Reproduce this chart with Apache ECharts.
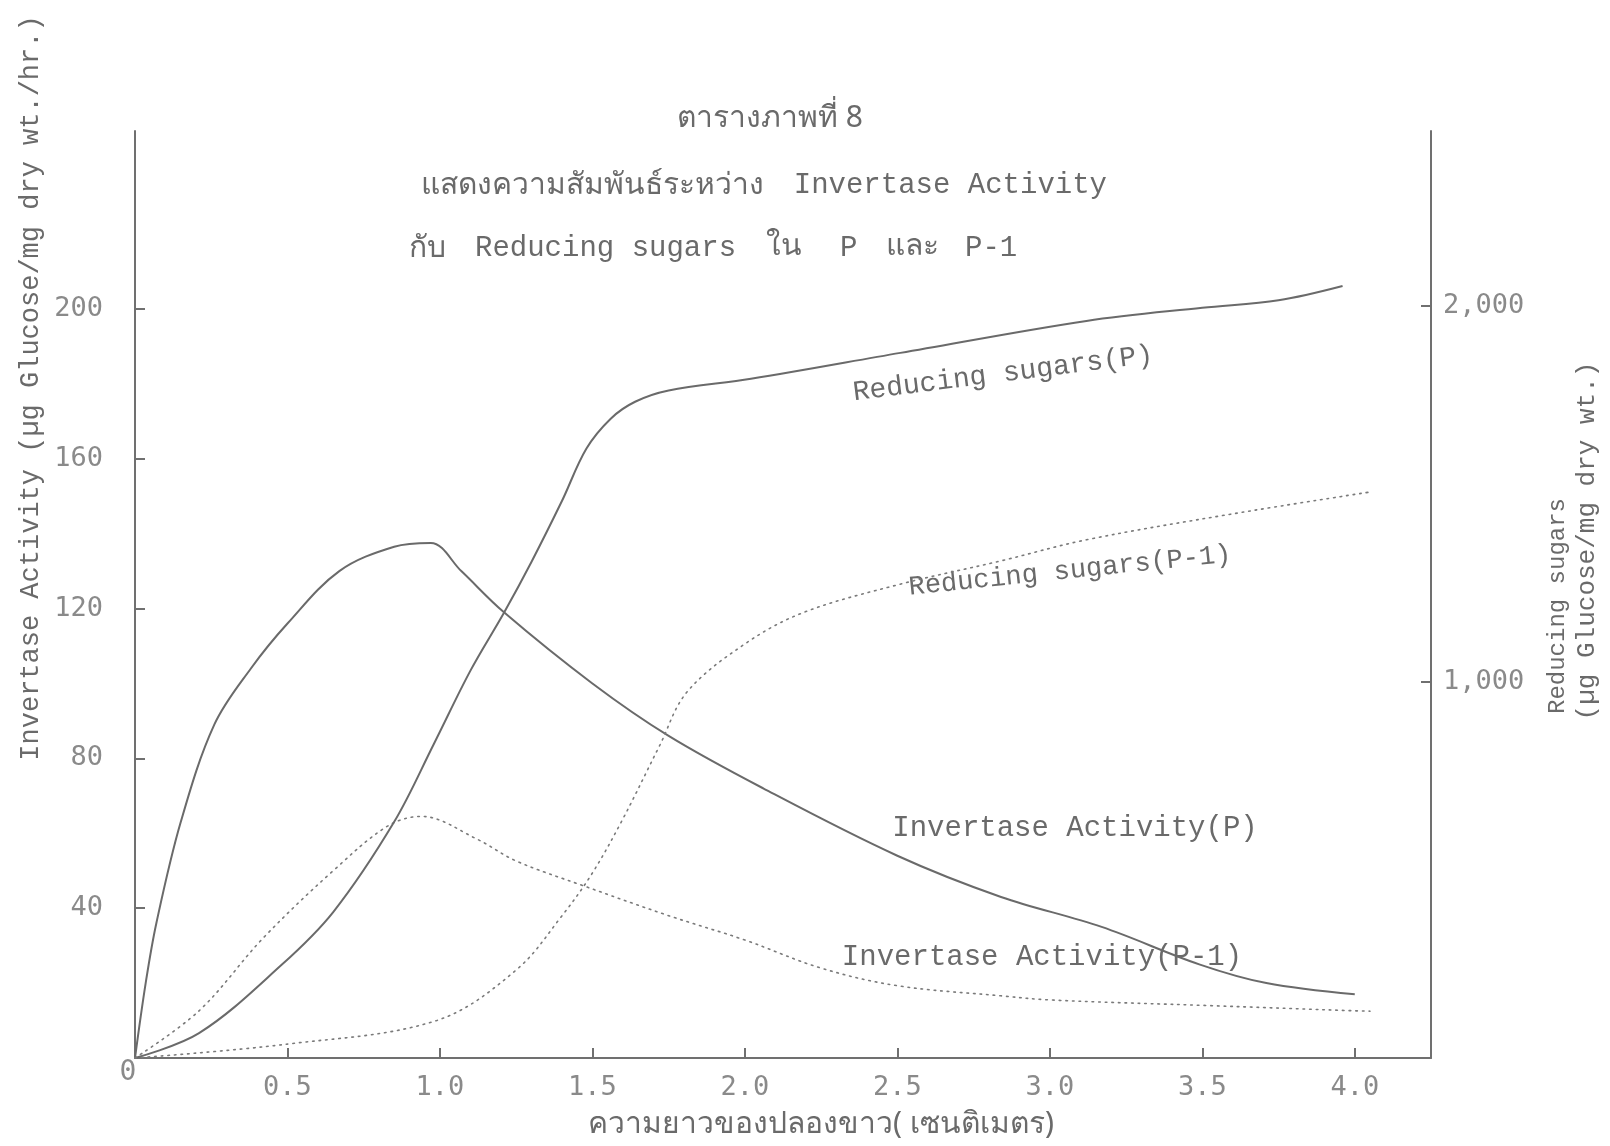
<!DOCTYPE html>
<html>
<head>
<meta charset="utf-8">
<script src="https://cdn.jsdelivr.net/npm/echarts@6/dist/echarts.min.js"></script>
<style>html,body{margin:0;padding:0;background:#fff}#chart{width:1610px;height:1146px}</style>
</head>
<body>
<div id="chart"></div>
<script>
// Invertase Activity (P), left axis
const invPX = [0, 0.035, 0.07, 0.15, 0.26, 0.38, 0.5, 0.67, 0.85, 0.97, 1.07, 1.21, 1.5, 1.75, 2.06, 2.5, 2.84, 3.17, 3.49, 3.71, 4.0]
const invPY = [0, 20, 36, 63, 89, 104, 116, 130, 136.5, 137.5, 130, 119, 100, 86, 72, 54, 43, 35, 25, 20, 17]
// Invertase Activity (P-1), left axis
const invP1X = [0, 0.21, 0.42, 0.65, 0.83, 0.94, 1.12, 1.25, 1.47, 1.75, 2.0, 2.25, 2.5, 2.84, 3.0, 3.52, 4.0, 4.05]
const invP1Y = [0, 12.6, 32, 50, 62, 64.5, 58.5, 52.6, 46, 38, 31.5, 24, 19.3, 16.6, 15.5, 14, 12.6, 12.5]
// Reducing sugars (P), right axis
const redPX = [0, 0.21, 0.48, 0.65, 0.85, 0.98, 1.1, 1.21, 1.3, 1.4, 1.48, 1.56, 1.64, 1.75, 2.02, 2.51, 3.12, 3.5, 3.75, 3.96]
const redPY = [0, 66, 247, 388, 628, 835, 1030, 1184, 1319, 1481, 1620, 1700, 1745, 1775, 1806, 1875, 1960, 1995, 2015, 2053]
// Reducing sugars (P-1), right axis
const redP1X = [0, 0.5, 0.99, 1.25, 1.4, 1.5, 1.6, 1.72, 1.81, 2.0, 2.19, 2.5, 2.84, 3.12, 3.6, 4.05]
const redP1Y = [0, 37, 100, 234, 378, 492, 636, 830, 973, 1101, 1184, 1258, 1322, 1378, 1447, 1505]

const xTicks = [0.5, 1.0, 1.5, 2.0, 2.5, 3.0, 3.5, 4.0]
const leftTicks = [40, 80, 120, 160, 200]
const rightTicks = [1000, 2000]

const pairs = (xs, ys) => xs.map((x, i) => [x, ys[i]])
const ink = "#6a6a6a"
const numColor = "#8a8a8a"
const mono = '"Liberation Mono", monospace'
const thai = '"Noto Sans", sans-serif'
const numFont = '"DejaVu Sans Mono", monospace'
const axisLine = { show: true, lineStyle: { color: "#707070", width: 2 } }
const solid = { color: "#6a6a6a", width: 2 }
const dotted = { color: "#7a7a7a", width: 1.6, type: [1.6, 5], cap: "round" }

const txt = (text, x, y, size, deg, font, align, extra) => ({
  type: "text", x, y, rotation: (deg || 0) * Math.PI / 180, silent: true,
  style: Object.assign({ text, fill: ink, font: size + "px " + (font || mono),
    align: align || "center", verticalAlign: "middle", textAlign: align || "center", textVerticalAlign: "middle" }, extra || {})
})

const chart = echarts.init(document.getElementById("chart"))
chart.setOption({
  backgroundColor: "#fff",
  animation: false,
  grid: { left: 135, right: 179, top: 131, bottom: 88 },
  xAxis: {
    type: "value", min: 0, max: 4.25,
    axisLine,
    axisTick: { inside: true, length: 10, customValues: xTicks, lineStyle: { color: "#707070", width: 2 } },
    axisLabel: { customValues: xTicks, formatter: v => v.toFixed(1), color: numColor, fontSize: 27, fontFamily: numFont, margin: 16 },
    splitLine: { show: false }
  },
  yAxis: [
    {
      type: "value", min: 0, max: 247.5,
      axisLine,
      axisTick: { inside: true, length: 10, customValues: leftTicks, lineStyle: { color: "#707070", width: 2 } },
      axisLabel: { customValues: leftTicks, color: numColor, fontSize: 27, fontFamily: numFont, margin: 32 },
      splitLine: { show: false }
    },
    {
      type: "value", min: 0, max: 2465, position: "right",
      axisLine,
      axisTick: { inside: true, length: 10, customValues: rightTicks, lineStyle: { color: "#707070", width: 2 } },
      axisLabel: { customValues: rightTicks, formatter: v => v.toLocaleString("en-US"), color: numColor, fontSize: 27, fontFamily: numFont, margin: 12 },
      splitLine: { show: false }
    }
  ],
  series: [
    { name: "Invertase Activity(P)", type: "line", yAxisIndex: 0, data: pairs(invPX, invPY), showSymbol: false, smooth: 0.35, lineStyle: solid },
    { name: "Invertase Activity(P-1)", type: "line", yAxisIndex: 0, data: pairs(invP1X, invP1Y), showSymbol: false, smooth: 0.35, lineStyle: dotted },
    { name: "Reducing sugars(P)", type: "line", yAxisIndex: 1, data: pairs(redPX, redPY), showSymbol: false, smooth: 0.35, lineStyle: solid },
    { name: "Reducing sugars(P-1)", type: "line", yAxisIndex: 1, data: pairs(redP1X, redP1Y), showSymbol: false, smooth: 0.35, lineStyle: dotted }
  ],
  graphic: [
    txt("ตารางภาพที่ 8", 770, 118, 30, 0, thai),
    txt("แสดงความสัมพันธ์ระหว่าง", 421, 185, 30, 0, thai, "left"),
    txt("Invertase Activity", 1107, 185, 29, 0, mono, "right"),
    txt("กับ", 409, 248, 30, 0, thai, "left"),
    txt("Reducing sugars", 475, 248, 29, 0, mono, "left"),
    txt("ใน", 766, 246, 30, 0, thai, "left"),
    txt("P", 840, 248, 29, 0, mono, "left"),
    txt("และ", 886, 246, 30, 0, thai, "left"),
    txt("P-1", 965, 248, 29, 0, mono, "left"),
    txt("Invertase Activity (µg Glucose/mg dry wt./hr.)", 31, 388, 27, 90),
    txt("Reducing sugars", 1558, 606, 24, 90),
    txt("(µg Glucose/mg dry wt.)", 1587, 541, 26, 90),
    txt("ความยาวของปลองขาว( เซนติเมตร)", 821, 1124, 30, 0, thai),
    txt("0", 128, 1073, 28, 0, numFont, "center", { fill: numColor }),
    txt("Reducing sugars(P)", 1003, 374, 28, 7.2),
    txt("Reducing sugars(P-1)", 1070, 571, 27, 5.9),
    txt("Invertase Activity(P)", 1075, 828, 29, 0),
    txt("Invertase Activity(P-1)", 1042, 957, 29, 0)
  ]
})
</script>
</body>
</html>
